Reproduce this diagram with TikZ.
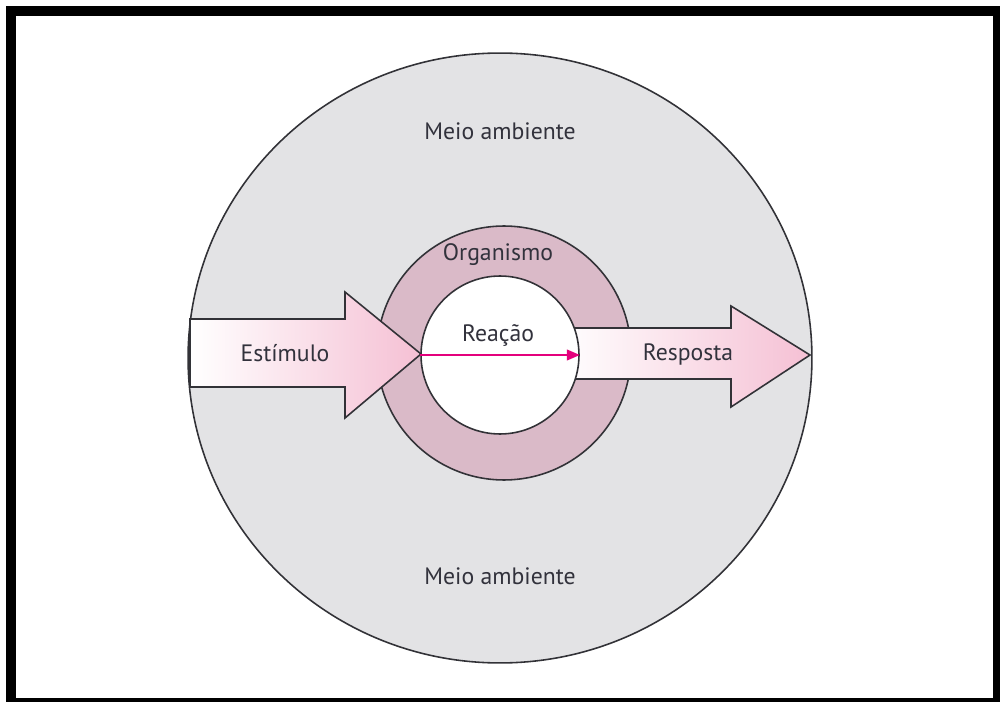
\documentclass[tikz,border=0pt]{standalone}
\usepackage{fontspec}
\setmainfont{PT Sans}
\usetikzlibrary{arrows.meta, positioning, shapes.geometric}

\definecolor{envgray}{RGB}{227,227,229}
\definecolor{ringpink}{RGB}{218,186,200}
\definecolor{arrowpink}{RGB}{245,192,212}
\definecolor{linegray}{RGB}{50,50,55}
\definecolor{textgray}{RGB}{50,50,60}
\definecolor{reactmag}{RGB}{228,0,124}

\begin{document}
\begin{tikzpicture}[x=0.02cm, y=-0.02cm]
        % Styles
        \tikzstyle{label_text} = [font=\fontsize{13.5}{16}\selectfont, text=textgray, inner sep=1pt]
        \tikzstyle{outline} = [draw=linegray, line width=0.9pt]
        \tikzstyle{big_arrow} = [outline, left color=white, right color=arrowpink]

        \useasboundingbox (0,0) rectangle (1000,702);

        % Environment - large grey disc
        \node[ellipse, outline, fill=envgray, minimum width=12.48cm, minimum height=12.2cm,
              inner sep=0] (meio) at (500,358) {};

        % Organism ring
        \node[circle, outline, fill=ringpink, minimum size=5.08cm, inner sep=0] (organismo) at (504,353) {};

        % Stimulus arrow (ends at the reaction circle)
        \draw[big_arrow] (190,319) -- (345,319) -- (345,292) -- (421,354)
              -- (345,418) -- (345,387) -- (190,387) -- cycle;

        % Response arrow (starts under the reaction circle)
        \draw[big_arrow] (560,328) -- (731,328) -- (731,306) -- (810,355)
              -- (731,407) -- (731,379) -- (560,379) -- cycle;

        % Reaction - white inner circle drawn on top
        \node[circle, outline, fill=white, minimum size=3.16cm, inner sep=0] (reacao) at (500,355) {};
        \draw[-{Triangle[length=0.26cm, width=0.22cm]}, reactmag, line width=0.7pt] (reacao.west) -- (reacao.east);

        % Labels
        \node[label_text] (meio_top) at (500,131) {Meio ambiente};
        \node[label_text] (meio_bottom) at (500,576) {Meio ambiente};
        \node[label_text] (org_label) at (498,255) {Organismo};
        \node[label_text] (reacao_label) at (498,335) {Reação};
        \node[label_text] (estimulo) at (285,353) {Estímulo};
        \node[label_text] (resposta) at (688,354) {Resposta};

        % Frame
        \draw[line width=0.2cm] (11,11) rectangle (998,703);
\end{tikzpicture}
\end{document}
